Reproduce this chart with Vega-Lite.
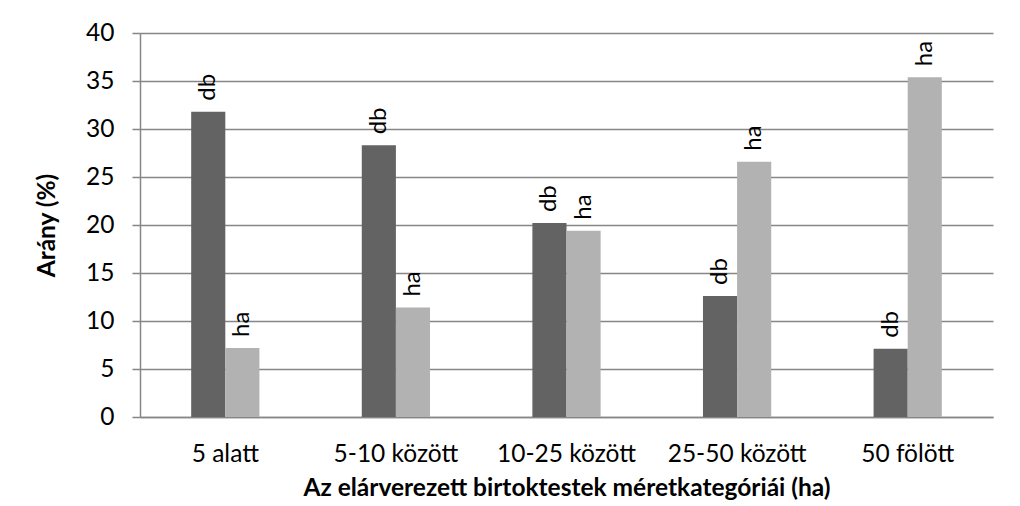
{
  "$schema": "https://vega.github.io/schema/vega-lite/v6.json",
  "autosize": {"type": "none"},
  "width": 853,
  "height": 384,
  "padding": {"left": 140, "top": 33, "right": 27, "bottom": 89},
  "background": "white",
  "config": {
    "view": {"stroke": null},
    "font": "Lato"
  },
  "data": {
    "values": [
      {"kat": "5 alatt", "tipus": "db", "arany": 31.8},
      {"kat": "5 alatt", "tipus": "ha", "arany": 7.2},
      {"kat": "5-10 között", "tipus": "db", "arany": 28.3},
      {"kat": "5-10 között", "tipus": "ha", "arany": 11.4},
      {"kat": "10-25 között", "tipus": "db", "arany": 20.2},
      {"kat": "10-25 között", "tipus": "ha", "arany": 19.4},
      {"kat": "25-50 között", "tipus": "db", "arany": 12.6},
      {"kat": "25-50 között", "tipus": "ha", "arany": 26.6},
      {"kat": "50 fölött", "tipus": "db", "arany": 7.1},
      {"kat": "50 fölött", "tipus": "ha", "arany": 35.4}
    ]
  },
  "encoding": {
    "x": {
      "field": "kat", "type": "nominal", "sort": null,
      "scale": {"paddingInner": 0.6, "paddingOuter": 0.3},
      "axis": {
        "title": "Az elárverezett birtoktestek méretkategóriái (ha)",
        "titleFont": "Lato", "titleFontSize": 24.5, "titleFontWeight": "bold", "titleColor": "black",
        "titlePadding": 11,
        "labelAngle": 0, "labelFontSize": 24.5, "labelColor": "black", "labelPadding": 25,
        "ticks": false, "domainColor": "#868686", "domainWidth": 1.5, "grid": false
      }
    },
    "xOffset": {"field": "tipus", "type": "nominal", "scale": {"paddingInner": 0, "paddingOuter": 0}},
    "y": {
      "field": "arany", "type": "quantitative",
      "scale": {"domain": [0, 40], "nice": false},
      "axis": {
        "title": "Arány (%)",
        "titleFont": "Lato", "titleFontSize": 24.5, "titleFontWeight": "bold", "titleColor": "black",
        "titlePadding": 26,
        "values": [0, 5, 10, 15, 20, 25, 30, 35, 40],
        "labelFontSize": 24.5, "labelColor": "black", "labelPadding": 18,
        "tickSize": 8, "tickColor": "#868686", "tickWidth": 1.5,
        "domainColor": "#868686", "domainWidth": 1.5,
        "gridColor": "#868686", "gridWidth": 1.5
      }
    }
  },
  "layer": [
    {
      "mark": {"type": "bar"},
      "encoding": {
        "color": {
          "field": "tipus", "type": "nominal",
          "scale": {"domain": ["db", "ha"], "range": ["#636363", "#b2b2b2"]},
          "legend": null
        }
      }
    },
    {
      "mark": {"type": "text", "angle": 270, "align": "left", "baseline": "middle", "dx": 11, "fontSize": 24, "color": "black"},
      "encoding": {
        "text": {"field": "tipus"}
      }
    }
  ]
}
